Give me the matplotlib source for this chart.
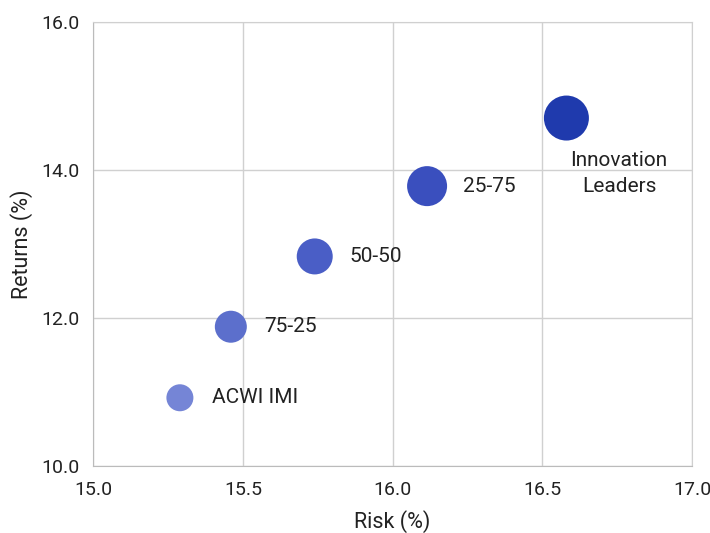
import matplotlib
matplotlib.use("Agg")
import matplotlib.pyplot as plt

plt.rcParams['font.family'] = ['Roboto', 'DejaVu Sans']

names = ["ACWI IMI", "75-25", "50-50", "25-75", "Innovation\nLeaders"]
risk = [15.29, 15.46, 15.74, 16.115, 16.58]
returns = [10.92, 11.88, 12.83, 13.78, 14.70]
diam_px = [27, 32, 36, 40, 45]
colors = ["#7585d6", "#5c6fcc", "#4a5ec6", "#3a4fbe", "#1f3aad"]

fig = plt.figure(figsize=(7.1, 5.33), dpi=100)
ax = fig.add_axes([0.131, 0.126, 0.844, 0.833])

sizes = [(d * 0.72) ** 2 for d in diam_px]
ax.scatter(risk, returns, s=sizes, c=colors, edgecolors='none', zorder=3)

for i, name in enumerate(names):
    if i == len(names) - 1:
        ax.annotate(name, (risk[i], returns[i]), xytext=(38, -40), textcoords='offset points',
                    ha='center', va='center', multialignment='center', fontsize=15,
                    color='#222222', linespacing=1.45)
    else:
        ax.annotate(name, (risk[i], returns[i]), xytext=(23 + i * 1.0, 0), textcoords='offset points',
                    ha='left', va='center', fontsize=15, color='#222222')

ax.set_xlim(15.0, 17.0)
ax.set_ylim(10.0, 16.0)
ax.set_xticks([15.0, 15.5, 16.0, 16.5, 17.0])
ax.set_yticks([10.0, 12.0, 14.0, 16.0])
ax.xaxis.set_major_formatter(matplotlib.ticker.FormatStrFormatter('%.1f'))
ax.yaxis.set_major_formatter(matplotlib.ticker.FormatStrFormatter('%.1f'))
ax.tick_params(length=0, labelsize=14, labelcolor='#222222')
ax.tick_params(axis='x', pad=11)
ax.tick_params(axis='y', pad=10)
ax.grid(True, color='#d0d0d0', linewidth=1)
ax.set_axisbelow(True)
for side in ['top', 'right']:
    ax.spines[side].set_color('#d0d0d0')
for side in ['left', 'bottom']:
    ax.spines[side].set_color('#bbbbbb')

ax.set_xlabel("Risk (%)", fontsize=15.5, color='#222222', labelpad=8)
ax.set_ylabel("Returns (%)", fontsize=15.5, color='#222222', labelpad=6)

fig.savefig("out.png", dpi=100)
